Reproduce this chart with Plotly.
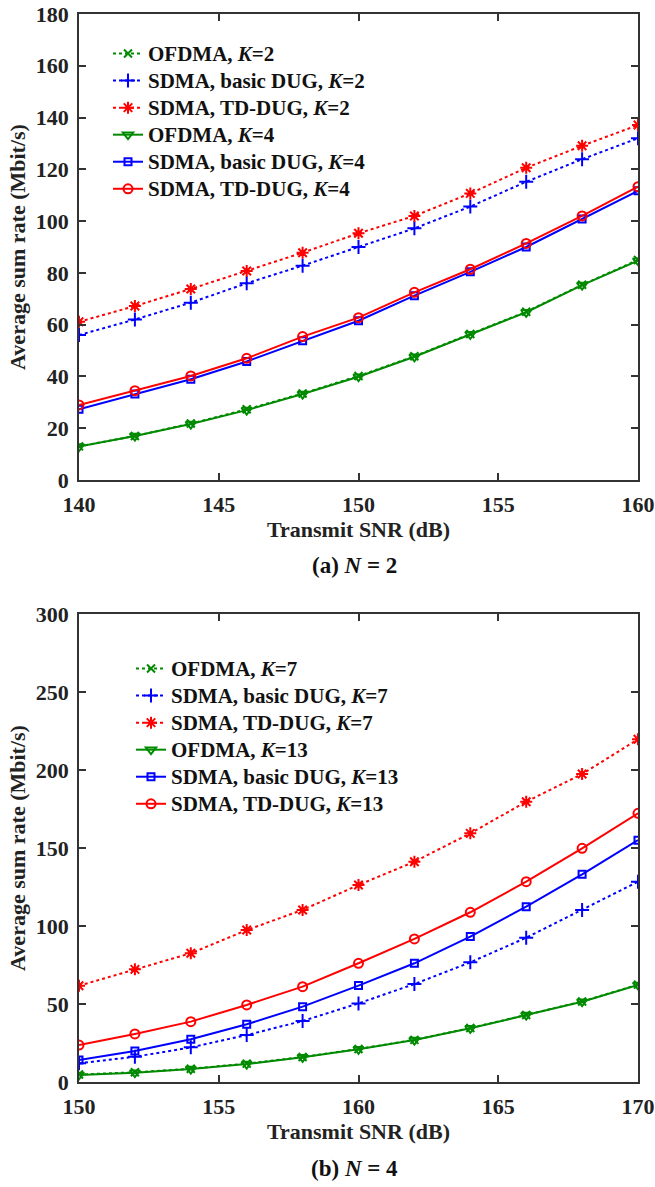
import plotly.graph_objects as go
from plotly.subplots import make_subplots

# ---------------- data ----------------
snr_a = [140, 142, 144, 146, 148, 150, 152, 154, 156, 158, 160]
ofdma_k2 = [13, 17, 21.8, 27.3, 33.4, 40.2, 47.8, 56.4, 65, 75.4, 85]
sdma_basic_k2 = [56, 62, 68.5, 76, 82.8, 90, 97.2, 105.6, 115.2, 123.9, 132]
sdma_td_k2 = [61.1, 67.2, 73.8, 80.7, 87.8, 95.3, 102, 110.7, 120.6, 129.1, 137.1]
ofdma_k4 = [12.9, 17, 21.6, 27, 33.2, 39.9, 47.6, 56.3, 64.8, 75.3, 84.7]
sdma_basic_k4 = [27.3, 33.2, 38.9, 45.8, 53.8, 61.5, 71.2, 80.4, 90, 100.8, 111.7]
sdma_td_k4 = [29, 34.5, 40.2, 47, 55.4, 62.7, 72.5, 81.4, 91.4, 102, 113.3]

snr_b = [150, 152, 154, 156, 158, 160, 162, 164, 166, 168, 170]
ofdma_k7 = [4.8, 6.2, 8.5, 11.8, 16, 21.2, 27, 34.6, 43, 51.6, 62.4]
sdma_basic_k7 = [12, 16.2, 22.2, 30.1, 39.1, 50.4, 62.8, 76.7, 92.5, 110.3, 128.4]
sdma_td_k7 = [61.7, 72.2, 82.5, 97.4, 110.3, 126.3, 141.2, 159.4, 179.7, 197.4, 219.7]
ofdma_k13 = [4.5, 6, 8.3, 11.5, 15.8, 21, 26.9, 34.4, 42.9, 51.5, 62.2]
sdma_basic_k13 = [14.1, 19.9, 27.4, 37, 48.3, 61.8, 76.1, 93.2, 112.4, 133.1, 155]
sdma_td_k13 = [23.7, 30.8, 38.7, 49.4, 61.1, 76.1, 91.7, 108.8, 128.4, 149.8, 172.2]

names_a = ["OFDMA, <i>K</i>=2", "SDMA, basic DUG, <i>K</i>=2", "SDMA, TD-DUG, <i>K</i>=2",
           "OFDMA, <i>K</i>=4", "SDMA, basic DUG, <i>K</i>=4", "SDMA, TD-DUG, <i>K</i>=4"]
names_b = ["OFDMA, <i>K</i>=7", "SDMA, basic DUG, <i>K</i>=7", "SDMA, TD-DUG, <i>K</i>=7",
           "OFDMA, <i>K</i>=13", "SDMA, basic DUG, <i>K</i>=13", "SDMA, TD-DUG, <i>K</i>=13"]

GREEN = "#008a00"
BLUE = "#0000ff"
RED = "#ff0000"

styles = [
    (GREEN, "dot", "x-thin-open", 8),
    (BLUE, "dot", "cross-thin-open", 10),
    (RED, "dot", "asterisk-open", 10),
    (GREEN, "solid", "triangle-down-open", 9),
    (BLUE, "solid", "square-open", 7),
    (RED, "solid", "circle-open", 9),
]

FONT = "Liberation Serif, Times New Roman, serif"
W, H = 655, 1187
ML, MR, MT, MB = 79, 17, 14, 105
PW = W - ML - MR
PH = H - MT - MB


def big(s):
    return '<span style="font-size:21px">' + s + '</span>'


fig = make_subplots(rows=2, cols=1)

series_a = [ofdma_k2, sdma_basic_k2, sdma_td_k2, ofdma_k4, sdma_basic_k4, sdma_td_k4]
series_b = [ofdma_k7, sdma_basic_k7, sdma_td_k7, ofdma_k13, sdma_basic_k13, sdma_td_k13]

for (c, dash, sym, sz), nm, ys in zip(styles, names_a, series_a):
    fig.add_trace(go.Scatter(x=snr_a, y=ys, name=big(nm), mode="lines+markers",
                             line=dict(color=c, width=2, dash=dash),
                             marker=dict(symbol=sym, size=sz, color=c, line=dict(color=c, width=2)),
                             legend="legend"), row=1, col=1)
for (c, dash, sym, sz), nm, ys in zip(styles, names_b, series_b):
    fig.add_trace(go.Scatter(x=snr_b, y=ys, name=big(nm), mode="lines+markers",
                             line=dict(color=c, width=2, dash=dash),
                             marker=dict(symbol=sym, size=sz, color=c, line=dict(color=c, width=2)),
                             legend="legend2"), row=2, col=1)

fig.update_xaxes(domain=[0, 1])
fig.update_layout(
    yaxis=dict(domain=[1 - (480 - MT) / PH, 1]),
    yaxis2=dict(domain=[0, 1 - (614 - MT) / PH]),
)

axis_common = dict(showgrid=False, zeroline=False, showline=True, linecolor="#333333", linewidth=1.5,
                   mirror="ticks", ticks="inside", ticklen=7, tickwidth=1.5, tickcolor="#333333",
                   automargin=False,
                   tickfont=dict(family=FONT, size=22, color="#222222", weight="bold"))
title_font = dict(family=FONT, size=22, color="#222222", weight="bold")

fig.update_xaxes(**axis_common, ticklabelstandoff=4)
fig.update_yaxes(**axis_common, ticklabelstandoff=4)
fig.update_xaxes(range=[140, 160], dtick=5, tick0=140, row=1, col=1,
                 title=dict(text="Transmit SNR (dB)", font=title_font, standoff=0))
fig.update_xaxes(range=[150, 170], dtick=5, tick0=150, row=2, col=1,
                 title=dict(text="Transmit SNR (dB)", font=title_font, standoff=0))
fig.update_yaxes(range=[0, 180], dtick=20, row=1, col=1,
                 title=dict(text="Average sum rate (Mbit/s)", font=title_font, standoff=4))
fig.update_yaxes(range=[0, 300], dtick=50, row=2, col=1,
                 title=dict(text="Average sum rate (Mbit/s)", font=title_font, standoff=4))

leg_font = dict(family=FONT, size=18.5, color="#111111", weight="bold")
cap_font = dict(family=FONT, size=23, color="#111111", weight="bold")
fig.update_layout(
    width=W, height=H,
    margin=dict(l=ML, r=MR, t=MT, b=MB),
    paper_bgcolor="white", plot_bgcolor="white",
    legend=dict(x=(108 - ML) / PW, y=1 - (35 - MT) / PH, xanchor="left", yanchor="top",
                bgcolor="rgba(0,0,0,0)", font=leg_font, tracegroupgap=0),
    legend2=dict(x=(131 - ML) / PW, y=1 - (650 - MT) / PH, xanchor="left", yanchor="top",
                 bgcolor="rgba(0,0,0,0)", font=leg_font, tracegroupgap=0),
    annotations=[
        dict(text="(a) <i>N</i> = 2", x=(354 - ML) / PW, y=1 - (565 - MT) / PH,
             xref="paper", yref="paper", xanchor="center", yanchor="middle",
             showarrow=False, font=cap_font),
        dict(text="(b) <i>N</i> = 4", x=(354 - ML) / PW, y=1 - (1168 - MT) / PH,
             xref="paper", yref="paper", xanchor="center", yanchor="middle",
             showarrow=False, font=cap_font),
    ],
)

fig.write_html("out.html")
